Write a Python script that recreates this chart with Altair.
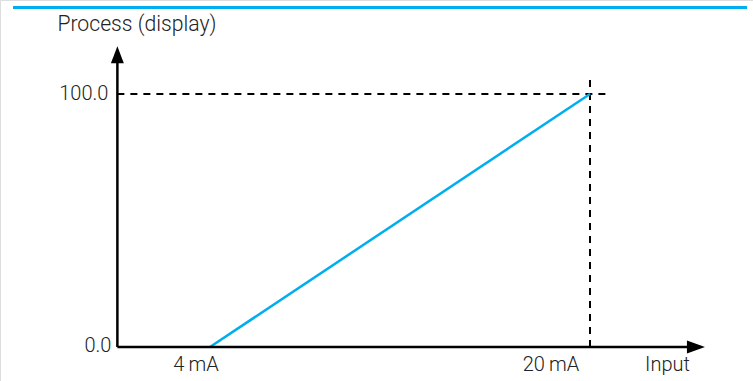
import altair as alt
import pandas as pd

# ---- data ----
input_ma = [4, 20]            # input current (mA)
process_val = [0.0, 100.0]    # process display value
x_tick_vals = [4, 20]
x_tick_labels = ["4\u2009mA", "20\u2009mA"]
y_tick_vals = [0.0, 100.0]
y_tick_labels = ["0.0", "100.0"]
x_axis_title = "Input"
y_axis_title = "Process (display)"

# axis extents (data units)
x_axis_start = 0.1
x_axis_end = 24.84
y_axis_end = 118.9
dash_x_end = 20.75
dash_y_end = 107.8

BLUE = "#00aeef"
FONT = "Roboto"

# scales mapping data to the whole 753x381 canvas
xs = alt.Scale(domain=[-115 / 23.75, (753 - 115) / 23.75], nice=False, zero=False)
ys = alt.Scale(domain=[(347 - 381) / 2.53, 347 / 2.53], nice=False, zero=False)
X = lambda f: alt.X(f, type="quantitative", scale=xs, axis=None)
Y = lambda f: alt.Y(f, type="quantitative", scale=ys, axis=None)

line_df = pd.DataFrame({"x": input_ma, "y": process_val})
line = alt.Chart(line_df).mark_line(color=BLUE, strokeWidth=2.5).encode(x=X("x"), y=Y("y"))

dash_df = pd.DataFrame({
    "x": [x_axis_start, input_ma[1]],
    "x2": [dash_x_end, input_ma[1]],
    "y": [process_val[1], 0.0],
    "y2": [process_val[1], dash_y_end],
})
dashes = alt.Chart(dash_df).mark_rule(color="black", strokeWidth=2, strokeDash=[7, 6]).encode(
    x=X("x"), x2="x2", y=Y("y"), y2="y2")

axes_df = pd.DataFrame({
    "x": [x_axis_start, x_axis_start],
    "x2": [x_axis_end - 0.5, x_axis_start],
    "y": [0.0, 0.0],
    "y2": [0.0, y_axis_end - 5],
})
axes = alt.Chart(axes_df).mark_rule(color="black", strokeWidth=2.5).encode(
    x=X("x"), x2="x2", y=Y("y"), y2="y2")

arrow_up = alt.Chart(pd.DataFrame({"x": [x_axis_start], "y": [y_axis_end]})).mark_point(
    shape="M0,0L0.76,2L-0.76,2Z", size=289, filled=True, color="black", opacity=1
).encode(x=X("x"), y=Y("y"))
arrow_right = alt.Chart(pd.DataFrame({"x": [x_axis_end], "y": [0.0]})).mark_point(
    shape="M0,0L-2,-0.72L-2,0.72Z", size=324, filled=True, color="black", opacity=1
).encode(x=X("x"), y=Y("y"))

xlab_df = pd.DataFrame({"x": x_tick_vals, "y": [0.0, 0.0], "t": x_tick_labels, "dx": [-14, -39]})
xlabs = []
for _, r in xlab_df.iterrows():
    xlabs.append(alt.Chart(pd.DataFrame([r])).mark_text(
        font=FONT, fontSize=20, fontWeight=300, color="#222", align="center",
        baseline="alphabetic", dx=float(r["dx"]), dy=24).encode(x=X("x"), y=Y("y"), text="t:N"))

ylab_df = pd.DataFrame({"y": y_tick_vals, "t": y_tick_labels, "dx": [-6, -9], "dy": [5, 6]})
ylabs = []
for _, r in ylab_df.iterrows():
    ylabs.append(alt.Chart(pd.DataFrame({"x": [x_axis_start], "y": [r["y"]], "t": [r["t"]]})).mark_text(
        font=FONT, fontSize=20, fontWeight=300, color="#222", align="right",
        baseline="alphabetic", dx=float(r["dx"]), dy=float(r["dy"])).encode(x=X("x"), y=Y("y"), text="t:N"))

xtitle = alt.Chart(pd.DataFrame({"x": [x_axis_end], "y": [0.0], "t": [x_axis_title]})).mark_text(
    font=FONT, fontSize=20, fontWeight=300, color="#222", align="right", baseline="alphabetic",
    dx=-15, dy=24).encode(x=X("x"), y=Y("y"), text="t:N")
ytitle = alt.Chart(pd.DataFrame({"x": [x_axis_start], "y": [y_axis_end], "t": [y_axis_title]})).mark_text(
    font=FONT, fontSize=21.2, fontWeight=300, color="#222", align="left", baseline="alphabetic",
    dx=-60, dy=-15).encode(x=X("x"), y=Y("y"), text="t:N")

header = alt.Chart(pd.DataFrame({"a": [0]})).mark_rule(color=BLUE, strokeWidth=3).encode(
    x=alt.value(13), x2=alt.value(747), y=alt.value(7.5))

chart = alt.layer(header, dashes, line, axes, arrow_up, arrow_right, *xlabs, *ylabs, xtitle, ytitle).properties(
    width=753, height=381, padding=0, autosize=alt.AutoSizeParams(type="none")
).configure_view(stroke=None).configure(background="white")

chart.save("out.html", embed_options={"renderer": "svg", "actions": False})
